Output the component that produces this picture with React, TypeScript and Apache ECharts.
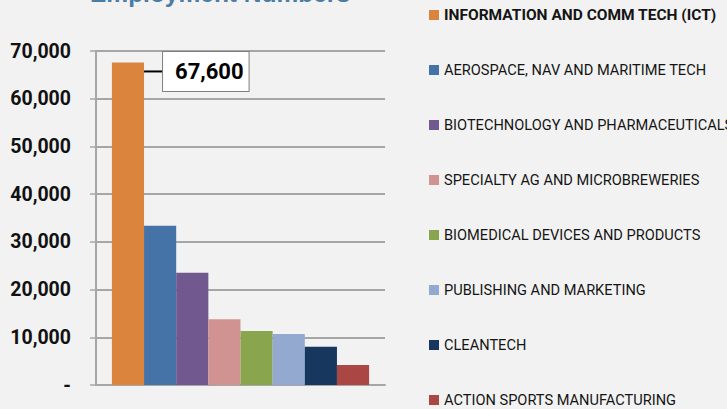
import React, { useEffect, useRef } from "react";
import * as echarts from "echarts";

const categories: string[] = [
  "INFORMATION AND COMM TECH (ICT)",
  "AEROSPACE, NAV AND MARITIME TECH",
  "BIOTECHNOLOGY AND PHARMACEUTICALS",
  "SPECIALTY AG AND MICROBREWERIES",
  "BIOMEDICAL DEVICES AND PRODUCTS",
  "PUBLISHING AND MARKETING",
  "CLEANTECH",
  "ACTION SPORTS MANUFACTURING",
];
const employment: number[] = [67600, 33400, 23500, 13800, 11300, 10700, 8000, 4200];
const colors: string[] = ["#DB843D", "#4572A7", "#71588F", "#D19392", "#89A54E", "#93A9CF", "#17375E", "#AA4643"];
const yTicks: number[] = [0, 10000, 20000, 30000, 40000, 50000, 60000, 70000];
const titleText = "Employment Numbers";

const FONT = "Roboto, 'Noto Sans', sans-serif";

const fmt = (v: number) => (v === 0 ? "-" : v.toLocaleString("en-US"));

export default function App() {
  const ref = useRef<HTMLDivElement>(null);
  useEffect(() => {
    document.body.style.margin = "0";
    const chart = echarts.init(ref.current!, undefined, { renderer: "svg" });
    const series = categories.map((name, i) => ({
      name,
      type: "bar",
      data: [employment[i]],
      itemStyle: { color: colors[i] },
      barGap: "0%",
      barCategoryGap: "11%",
      label:
        i === 0
          ? {
              show: true,
              position: ["100%", 9],
              align: "left",
              verticalAlign: "middle",
              formatter: (p: any) => `{ln|}{box|${fmt(p.value)}}`,
              rich: {
                ln: { width: 19, height: 2, backgroundColor: "#000" },
                box: {
                  fontFamily: FONT,
                  fontSize: 22,
                  fontWeight: "bold",
                  color: "#000",
                  backgroundColor: "#fff",
                  borderColor: "#7f7f7f",
                  borderWidth: 1,
                  padding: [8, 5, 7, 12],
                  height: 24,
                  lineHeight: 24,
                },
              },
            }
          : { show: false },
    }));
    chart.setOption({
      animation: false,
      backgroundColor: "#f2f2f2",
      grid: { left: 96, right: 342, top: 51, bottom: 24, containLabel: false, outerBoundsMode: "none" },
      graphic: [
        {
          type: "text",
          left: 90,
          top: -19,
          style: {
            text: titleText,
            fontFamily: "'Liberation Sans', sans-serif",
            fontSize: 24.5,
            fontWeight: "bold",
            fill: "#4a7ca6",
          },
        },
      ],
      legend: {
        orient: "vertical",
        left: 429,
        top: 5,
        height: 440,
        padding: 0,
        itemWidth: 10,
        itemHeight: 10,
        itemGap: 35,
        icon: "rect",
        textStyle: { fontFamily: FONT, fontSize: 14.6, color: "#151515", lineHeight: 20 },
        data: categories.map((name, i) =>
          i === 0 ? { name, textStyle: { fontWeight: "bold", fontSize: 15.5 } } : { name }
        ),
      },
      xAxis: {
        type: "category",
        data: [""],
        axisLine: { show: true, lineStyle: { color: "#a6a6a6", width: 2 } },
        axisTick: { show: false },
        axisLabel: { show: false },
      },
      yAxis: {
        type: "value",
        min: yTicks[0],
        max: yTicks[yTicks.length - 1],
        interval: yTicks[1] - yTicks[0],
        axisLine: { show: true, lineStyle: { color: "#a6a6a6", width: 2 } },
        axisTick: { show: true, length: 6, lineStyle: { color: "#a6a6a6", width: 1.5 } },
        splitLine: { show: true, lineStyle: { color: "#a6a6a6", width: 2 } },
        axisLabel: {
          margin: 25,
          formatter: fmt,
          fontFamily: FONT,
          fontSize: 19.5,
          fontWeight: "bold",
          color: "#111",
        },
      },
      series,
    });
    return () => chart.dispose();
  }, []);
  return <div ref={ref} style={{ position: "fixed", left: 0, top: 0, width: 727, height: 409 }} />;
}
